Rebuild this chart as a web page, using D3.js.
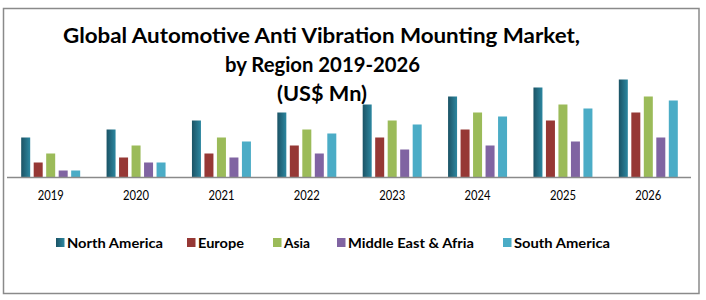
<!DOCTYPE html>
<html>
<head>
<meta charset="utf-8">
<script src="https://cdn.jsdelivr.net/npm/d3@7"></script>
<style>
  html, body { margin: 0; padding: 0; background: #fff; }
  svg { display: block; }
  text { font-family: Lato, "Open Sans", sans-serif; fill: #000; }
</style>
</head>
<body>
<svg id="chart" width="706" height="300"></svg>
<script>
// ---- data ----
const years = ["2019", "2020", "2021", "2022", "2023", "2024", "2025", "2026"];
const regions = ["North America", "Europe", "Asia", "Middle East & Afria", "South America"];
const northAmerica = [40, 48, 57, 65, 73, 81, 90, 98];
const europe       = [15, 20, 24, 32, 40, 48, 57, 65];
const asia         = [24, 32, 40, 48, 57, 65, 73, 81];
const middleEast   = [7, 15, 20, 24, 28, 32, 36, 40];
const southAmerica = [7, 15, 36, 44, 53, 61, 69, 77];
const titleLines = ["Global Automotive Anti Vibration Mounting Market,", "by Region 2019-2026", "(US$ Mn)"];

const seriesValues = [northAmerica, europe, asia, middleEast, southAmerica];
const colors = ["url(#naGrad)", "#963835", "#9bbb59", "#8064a2", "#4bacc6"];

const svg = d3.select("#chart");

// gradient for North America
const defs = svg.append("defs");
const g = defs.append("linearGradient").attr("id", "naGrad")
  .attr("x1", "0%").attr("x2", "100%").attr("y1", "0%").attr("y2", "0%");
g.append("stop").attr("offset", "0%").attr("stop-color", "#1b5365");
g.append("stop").attr("offset", "100%").attr("stop-color", "#2c87a0");

// frame
svg.append("rect").attr("x", 3.5).attr("y", 8.5).attr("width", 695.5).attr("height", 285)
  .attr("fill", "#fff").attr("stroke", "#8a8a8a").attr("stroke-width", 1.5);

// title
const titleX = [63, 225, 277];
const titleW = [517, 195, 90];
const titleY = [43, 72, 101];
titleLines.forEach((t, i) => {
  svg.append("text").attr("x", titleX[i]).attr("y", titleY[i])
    .attr("font-size", 21).attr("font-weight", "bold")
    .attr("textLength", titleW[i]).attr("lengthAdjust", "spacingAndGlyphs")
    .text(t);
});

// scales
const baseline = 177.5;
const x0 = d3.scaleBand().domain(years).range([8, 691]).paddingInner(0).paddingOuter(0);
const x1 = d3.scaleBand().domain(d3.range(regions.length)).range([0, x0.bandwidth()])
  .paddingInner(0.28).paddingOuter(1.056);
const y = d3.scaleLinear().domain([0, 100]).range([baseline, baseline - 100]);

// bars
const groups = svg.append("g").selectAll("g").data(years).join("g")
  .attr("transform", d => `translate(${x0(d)},0)`);
groups.selectAll("rect")
  .data((d, i) => seriesValues.map((s, k) => ({ k, v: s[i] })))
  .join("rect")
  .attr("x", d => x1(d.k))
  .attr("width", x1.bandwidth())
  .attr("y", d => y(d.v))
  .attr("height", d => y(0) - y(d.v))
  .attr("fill", d => colors[d.k]);

// x axis
const xAxis = d3.axisBottom(x0).tickSize(0).tickPadding(14);
const ax = svg.append("g").attr("transform", `translate(0,${baseline})`).call(xAxis);
ax.select(".domain").attr("stroke", "#8a8a8a").attr("stroke-width", 1.5)
  .attr("d", `M7,0H691`);
ax.selectAll("text").attr("font-size", 12.5).attr("fill", "#000")
  .attr("font-family", "Lato, sans-serif")
  .attr("textLength", 26).attr("lengthAdjust", "spacingAndGlyphs");

// legend
const legX = [56, 187, 273, 337, 503];
const legW = [96, 46, 26, 126, 96];
const leg = svg.append("g").selectAll("g").data(regions).join("g")
  .attr("transform", (d, i) => `translate(${legX[i]},238)`);
leg.append("rect").attr("width", 8.5).attr("height", 9).attr("fill", (d, i) => colors[i]);
leg.append("text").attr("x", 11).attr("y", 9.5)
  .attr("font-size", 14).attr("font-weight", "bold")
  .attr("textLength", (d, i) => legW[i]).attr("lengthAdjust", "spacingAndGlyphs")
  .text(d => d);
</script>
</body>
</html>
